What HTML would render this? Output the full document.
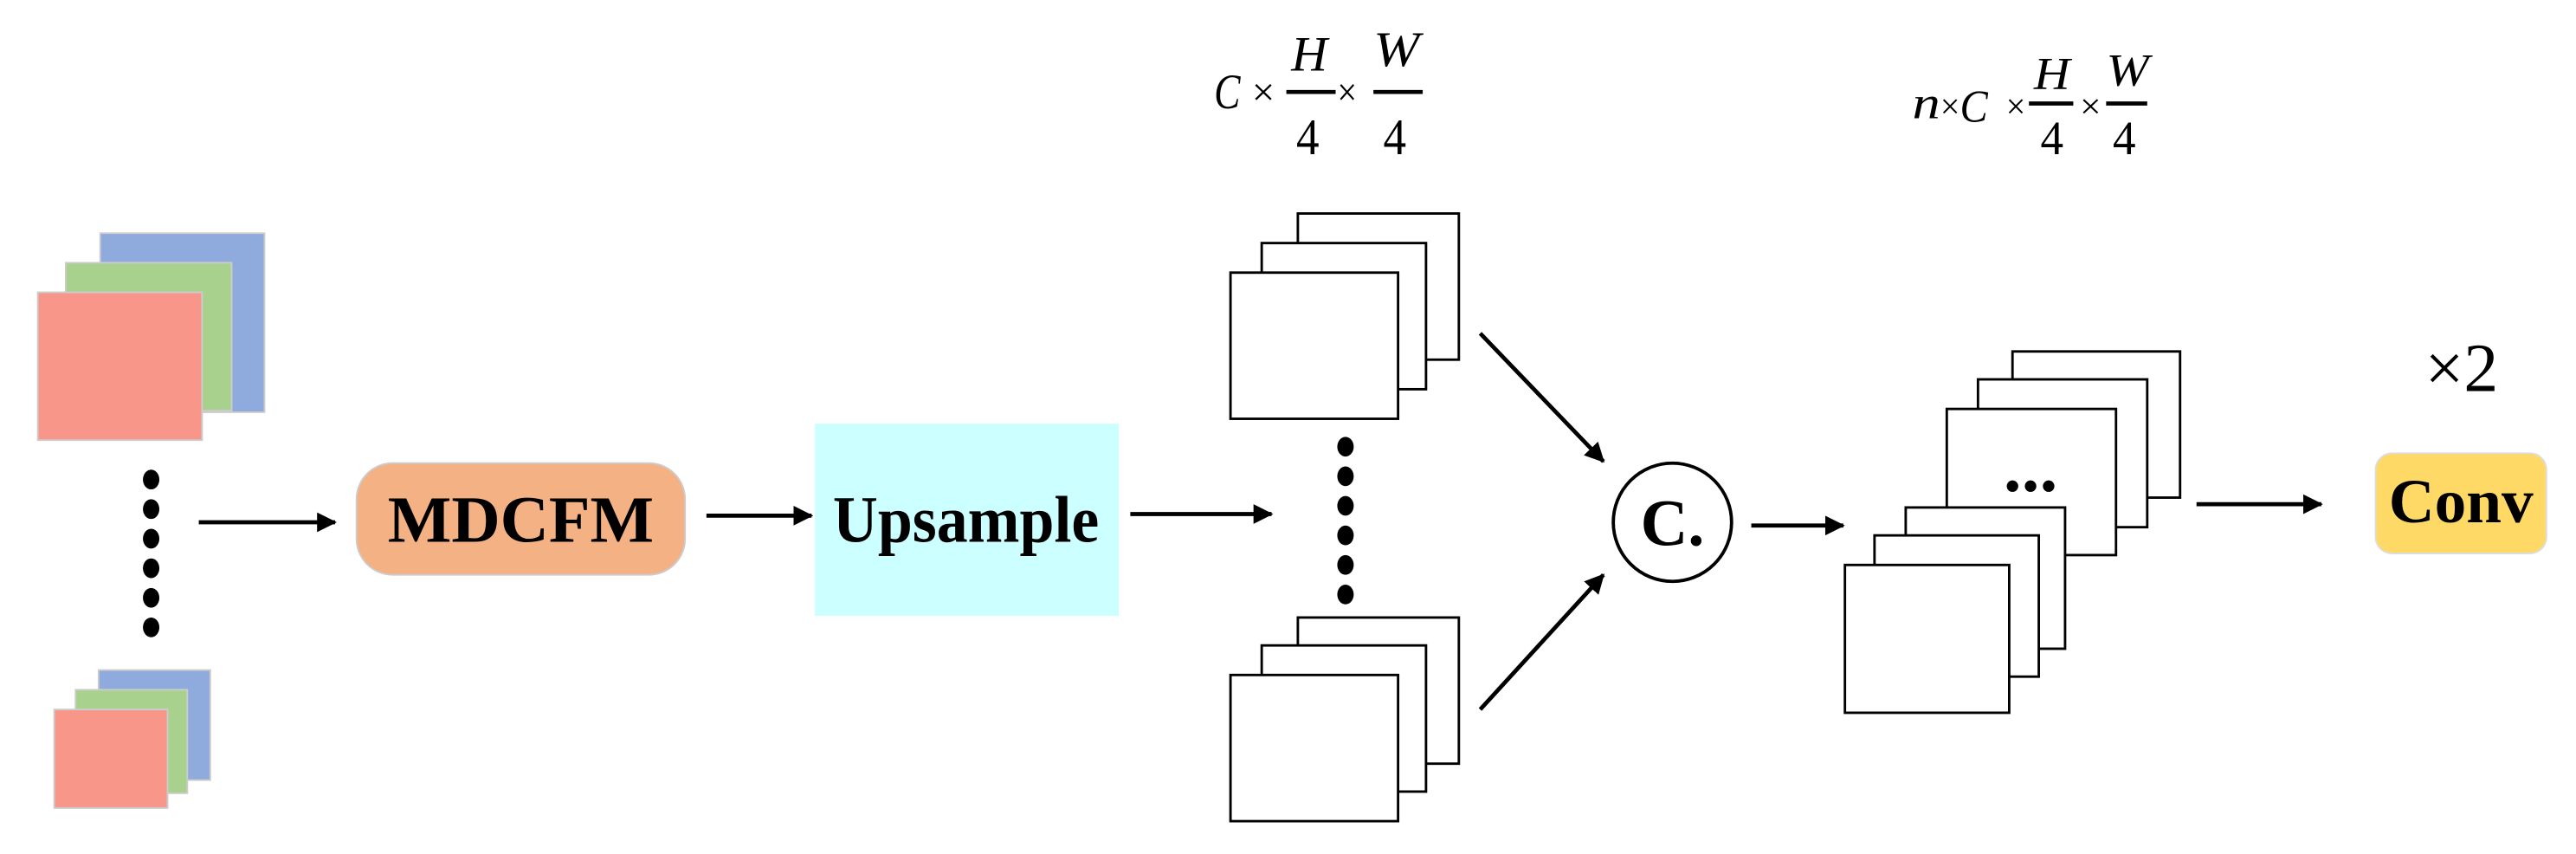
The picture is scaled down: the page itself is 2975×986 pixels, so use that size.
<!DOCTYPE html>
<html><head><meta charset="utf-8"><style>html,body{margin:0;padding:0;background:#fff}svg{display:block}</style></head><body>
<svg width="2975" height="986" viewBox="0 0 1568 520" preserveAspectRatio="none" xmlns="http://www.w3.org/2000/svg" font-family="Liberation Serif, serif">
<defs><marker id="b" markerWidth="12" markerHeight="12" refX="11" refY="6" orient="auto" markerUnits="userSpaceOnUse"><path d="M0,0 L12,6 L0,12 z" fill="#000"/></marker></defs>
<g stroke="#ccc" stroke-width="1">
<rect x="61" y="142" width="100" height="109" fill="#8FAADC"/>
<rect x="40" y="160" width="101" height="90" fill="#A9D18E"/>
<rect x="23" y="178" width="100" height="90" fill="#F8968A"/>
<rect x="60" y="408" width="68" height="67" fill="#8FAADC"/>
<rect x="46" y="420" width="68" height="63" fill="#A9D18E"/>
<rect x="33" y="432" width="69" height="60" fill="#F8968A"/>
</g>
<g fill="#000">
<ellipse cx="92" cy="292" rx="5" ry="6"/><ellipse cx="92" cy="310" rx="5" ry="6"/><ellipse cx="92" cy="328" rx="5" ry="6"/><ellipse cx="92" cy="346" rx="5" ry="6"/><ellipse cx="92" cy="364" rx="5" ry="6"/><ellipse cx="92" cy="382" rx="5" ry="6"/>
<ellipse cx="819" cy="272" rx="5" ry="6"/><ellipse cx="819" cy="290" rx="5" ry="6"/><ellipse cx="819" cy="308" rx="5" ry="6"/><ellipse cx="819" cy="326" rx="5" ry="6"/><ellipse cx="819" cy="344" rx="5" ry="6"/><ellipse cx="819" cy="362" rx="5" ry="6"/>
</g>
<g stroke="#000" stroke-width="2.5">
<line x1="121" y1="318" x2="204" y2="318" marker-end="url(#b)"/>
<line x1="430" y1="314" x2="494" y2="314" marker-end="url(#b)"/>
<line x1="688" y1="313" x2="774" y2="313" marker-end="url(#b)"/>
<line x1="901" y1="203" x2="976" y2="281" marker-end="url(#b)"/>
<line x1="901" y1="432" x2="976" y2="350" marker-end="url(#b)"/>
<line x1="1066" y1="320" x2="1122" y2="320" marker-end="url(#b)"/>
<line x1="1337" y1="307" x2="1413" y2="307" marker-end="url(#b)"/>
</g>
<rect x="217" y="282" width="200" height="68" rx="22" fill="#F4B183" stroke="#ccc"/>
<text x="317" y="330" font-size="40" font-weight="bold" text-anchor="middle" textLength="162" lengthAdjust="spacingAndGlyphs">MDCFM</text>
<rect x="496" y="258" width="185" height="117" fill="#CCFFFF"/>
<text x="588" y="330" font-size="40" font-weight="bold" text-anchor="middle" textLength="162" lengthAdjust="spacingAndGlyphs">Upsample</text>
<g fill="#fff" stroke="#000" stroke-width="1.5">
<rect x="790" y="130" width="98" height="89"/><rect x="768" y="148" width="100" height="89"/><rect x="749" y="166" width="102" height="89"/>
<rect x="790" y="376" width="98" height="89"/><rect x="768" y="393" width="100" height="89"/><rect x="749" y="411" width="102" height="89"/>
<rect x="1225" y="214" width="102" height="89"/><rect x="1204" y="231" width="103" height="90"/><rect x="1185" y="249" width="103" height="89"/>
<rect x="1160" y="309" width="97" height="86"/><rect x="1141" y="326" width="100" height="86"/><rect x="1123" y="344" width="100" height="90"/>
</g>
<g fill="#000"><circle cx="1225" cy="296" r="3.5"/><circle cx="1236" cy="296" r="3.5"/><circle cx="1247" cy="296" r="3.5"/></g>
<circle cx="1018" cy="318" r="36" fill="#fff" stroke="#000" stroke-width="2"/>
<text x="1018" y="332" font-size="40" font-weight="bold" text-anchor="middle">C.</text>
<rect x="1446" y="276" width="104" height="61" rx="10" fill="#FFD966" stroke="#ddd"/>
<text x="1498" y="318" font-size="38" font-weight="bold" text-anchor="middle" textLength="88" lengthAdjust="spacingAndGlyphs">Conv</text>
<text x="1476" y="238" font-size="42">×2</text>
<!-- formula 1 -->
<text x="739" y="66" font-size="30" font-style="italic" textLength="16" lengthAdjust="spacingAndGlyphs">C</text>
<text x="762" y="64" font-size="24" textLength="14" lengthAdjust="spacingAndGlyphs">×</text>
<text x="786" y="43" font-size="30" font-style="italic" textLength="22" lengthAdjust="spacingAndGlyphs">H</text>
<line x1="783" y1="56" x2="813" y2="56" stroke="#000" stroke-width="2.5"/>
<text x="789" y="94" font-size="31" textLength="14" lengthAdjust="spacingAndGlyphs">4</text>
<text x="814" y="64" font-size="24" textLength="12" lengthAdjust="spacingAndGlyphs">×</text>
<text x="836" y="40" font-size="30" font-style="italic" textLength="28" lengthAdjust="spacingAndGlyphs">W</text>
<line x1="836" y1="56" x2="866" y2="56" stroke="#000" stroke-width="2.5"/>
<text x="842" y="94" font-size="31" textLength="14" lengthAdjust="spacingAndGlyphs">4</text>
<!-- formula 2 -->
<text x="1164" y="72" font-size="28" font-style="italic" textLength="17" lengthAdjust="spacingAndGlyphs">n</text>
<text x="1181" y="72" font-size="22" textLength="12" lengthAdjust="spacingAndGlyphs">×</text>
<text x="1193" y="74" font-size="28" font-style="italic" textLength="17" lengthAdjust="spacingAndGlyphs">C</text>
<text x="1221" y="72" font-size="22" textLength="12" lengthAdjust="spacingAndGlyphs">×</text>
<text x="1238" y="54" font-size="28" font-style="italic" textLength="22" lengthAdjust="spacingAndGlyphs">H</text>
<line x1="1235" y1="63" x2="1262" y2="63" stroke="#000" stroke-width="2.5"/>
<text x="1242" y="94" font-size="29" textLength="14" lengthAdjust="spacingAndGlyphs">4</text>
<text x="1266" y="72" font-size="22" textLength="13" lengthAdjust="spacingAndGlyphs">×</text>
<text x="1282" y="52" font-size="28" font-style="italic" textLength="26" lengthAdjust="spacingAndGlyphs">W</text>
<line x1="1282" y1="63" x2="1307" y2="63" stroke="#000" stroke-width="2.5"/>
<text x="1286" y="94" font-size="29" textLength="14" lengthAdjust="spacingAndGlyphs">4</text>
</svg>
</body></html>
